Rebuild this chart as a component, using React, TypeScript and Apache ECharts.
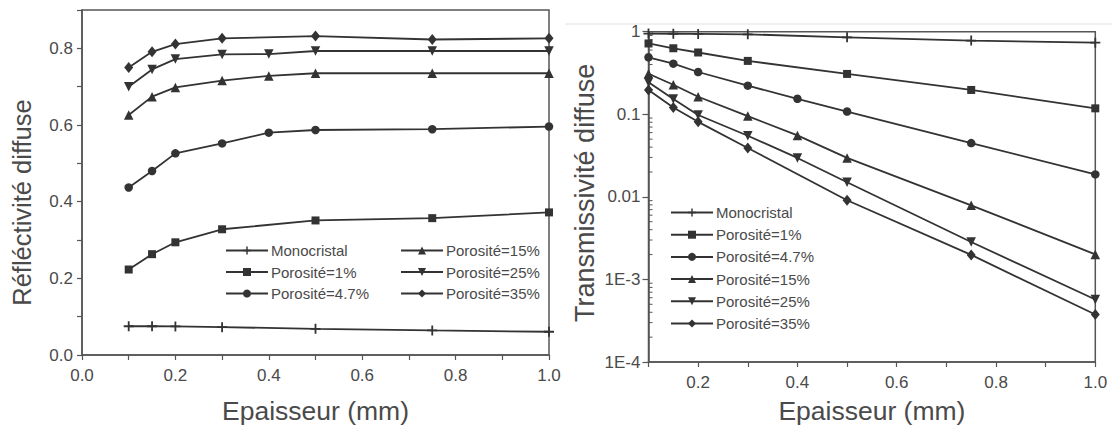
import React, { useEffect, useRef } from "react";
import * as echarts from "echarts";

// ---- names ----
const seriesNames = ["Monocristal", "Porosité=1%", "Porosité=4.7%", "Porosité=15%", "Porosité=25%", "Porosité=35%"];

// ---- Réflectivité diffuse (left) ----
const reflXMono = [0.1, 0.15, 0.2, 0.3, 0.5, 0.75, 1.0];
const reflMono = [0.075, 0.075, 0.0745, 0.0727, 0.0684, 0.064, 0.0606];
const reflXP1 = [0.1, 0.15, 0.2, 0.3, 0.5, 0.75, 1.0];
const reflP1 = [0.223, 0.263, 0.294, 0.328, 0.351, 0.357, 0.372];
const reflXP47 = [0.1, 0.15, 0.2, 0.3, 0.4, 0.5, 0.75, 1.0];
const reflP47 = [0.437, 0.48, 0.526, 0.552, 0.58, 0.587, 0.589, 0.596];
const reflXP15 = [0.1, 0.15, 0.2, 0.3, 0.4, 0.5, 0.75, 1.0];
const reflP15 = [0.626, 0.674, 0.698, 0.716, 0.728, 0.735, 0.735, 0.735];
const reflXP25 = [0.1, 0.15, 0.2, 0.3, 0.4, 0.5, 0.75, 1.0];
const reflP25 = [0.7, 0.745, 0.772, 0.784, 0.785, 0.793, 0.793, 0.793];
const reflXP35 = [0.1, 0.15, 0.2, 0.3, 0.5, 0.75, 1.0];
const reflP35 = [0.75, 0.791, 0.811, 0.826, 0.832, 0.823, 0.826];

// ---- Transmissivité diffuse (right, log) ----
const transXMono = [0.1, 0.15, 0.2, 0.3, 0.5, 0.75, 1.0];
const transMono = [0.95, 0.945, 0.94, 0.93, 0.855, 0.78, 0.736];
const transXP1 = [0.1, 0.15, 0.2, 0.3, 0.5, 0.75, 1.0];
const transP1 = [0.72, 0.63, 0.56, 0.443, 0.308, 0.197, 0.118];
const transXP47 = [0.1, 0.15, 0.2, 0.3, 0.4, 0.5, 0.75, 1.0];
const transP47 = [0.49, 0.41, 0.325, 0.222, 0.154, 0.108, 0.0448, 0.0187];
const transXP15 = [0.1, 0.15, 0.2, 0.3, 0.4, 0.5, 0.75, 1.0];
const transP15 = [0.31, 0.228, 0.163, 0.095, 0.0555, 0.0296, 0.0079, 0.00201];
const transXP25 = [0.1, 0.15, 0.2, 0.3, 0.4, 0.5, 0.75, 1.0];
const transP25 = [0.245, 0.153, 0.098, 0.055, 0.0296, 0.015, 0.00284, 0.000571];
const transXP35 = [0.1, 0.15, 0.2, 0.3, 0.5, 0.75, 1.0];
const transP35 = [0.197, 0.121, 0.081, 0.039, 0.0091, 0.00198, 0.000376];

// ---- tick labels ----
const logTickLabels: Record<string, string> = { "0": "1", "-1": "0.1", "-2": "0.01", "-3": "1E-3", "-4": "1E-4" };
const logMinorMultipliers = [2, 3, 4, 5, 6, 7, 8, 9];
const logDecades = [-4, -3, -2, -1];

const INK = "#333";
const AXIS = "#555";
const TEXT = "#4a4a4a";
const FONT = "Liberation Sans";

const PLUS = "path://M4.1,0L5.9,0L5.9,4.1L10,4.1L10,5.9L5.9,5.9L5.9,10L4.1,10L4.1,5.9L0,5.9L0,4.1L4.1,4.1Z";

const symbols = [
  { symbol: PLUS, symbolSize: 10, symbolRotate: 0 },
  { symbol: "rect", symbolSize: 8, symbolRotate: 0 },
  { symbol: "circle", symbolSize: 8.5, symbolRotate: 0 },
  { symbol: "triangle", symbolSize: 9.5, symbolRotate: 0 },
  { symbol: "triangle", symbolSize: 9.5, symbolRotate: 180 },
  { symbol: "diamond", symbolSize: [9, 11], symbolRotate: 0 },
];

const zip = (xs: number[], ys: number[]) => xs.map((x, i) => [x, ys[i]]);

function makeSeries(idx: number, data: number[][], axisIndex: number) {
  const s = symbols[idx];
  return {
    type: "line",
    name: seriesNames[idx],
    xAxisIndex: axisIndex,
    yAxisIndex: axisIndex,
    data,
    symbol: s.symbol,
    symbolSize: s.symbolSize,
    symbolRotate: s.symbolRotate,
    showSymbol: true,
    lineStyle: { color: INK, width: 1.8 },
    itemStyle: { color: INK, borderWidth: 0 },
    emphasis: { disabled: true },
    z: 3,
  };
}

const tenthsEven = (v: number) => (Math.round(v * 10) % 2 === 0 ? (Math.round(v * 10) / 10).toFixed(1) : "");

export default function App() {
  const ref = useRef<HTMLDivElement>(null);
  useEffect(() => {
    document.body.style.margin = "0";
    if (!ref.current) return;
    const chart = echarts.init(ref.current, undefined, { renderer: "svg" });

    const minorData: number[][] = [];
    logDecades.forEach((d) => logMinorMultipliers.forEach((m) => minorData.push([0.1, m * Math.pow(10, d)])));

    const axisLabelStyle = { fontSize: 17, color: TEXT, fontFamily: FONT };
    const legendCommon = {
      orient: "vertical",
      padding: 0,
      itemWidth: 42,
      itemHeight: 10,
      itemGap: 6.5,
      textStyle: { fontSize: 15, color: TEXT, fontFamily: FONT, padding: [0, 0, 0, -2] },
      inactiveColor: INK,
      selectedMode: false,
    };

    chart.setOption({
      animation: false,
      backgroundColor: "#fff",
      textStyle: { fontFamily: FONT },
      grid: [
        { left: 82, right: 563, top: 10, bottom: 73, show: true, borderColor: AXIS, borderWidth: 1.5, backgroundColor: "transparent" },
        { left: 648.5, right: 16.7, top: 31.7, bottom: 66.5, show: true, borderColor: AXIS, borderWidth: 1.5, backgroundColor: "transparent" },
      ],
      xAxis: [
        {
          type: "value", gridIndex: 0, min: 0, max: 1, interval: 0.1,
          axisLine: { show: true, lineStyle: { color: AXIS, width: 1.5 } },
          axisTick: { show: true, length: 5, lineStyle: { color: AXIS, width: 1.2 } },
          axisLabel: { ...axisLabelStyle, margin: 12, formatter: tenthsEven, showMinLabel: true, showMaxLabel: true },
          splitLine: { show: false },
          name: "Epaisseur (mm)", nameLocation: "middle", nameGap: 42,
          nameTextStyle: { fontSize: 26.5, color: TEXT, fontFamily: FONT },
        },
        {
          type: "value", gridIndex: 1, min: 0.1, max: 1, interval: 0.1,
          axisLine: { show: true, lineStyle: { color: AXIS, width: 1.5 } },
          axisTick: { show: true, length: 5, lineStyle: { color: AXIS, width: 1.2 } },
          axisLabel: { ...axisLabelStyle, margin: 12, formatter: tenthsEven, showMinLabel: true, showMaxLabel: true },
          splitLine: { show: false },
          name: "Epaisseur (mm)", nameLocation: "middle", nameGap: 35,
          nameTextStyle: { fontSize: 26.5, color: TEXT, fontFamily: FONT },
        },
      ],
      yAxis: [
        {
          type: "value", gridIndex: 0, min: 0, max: 0.9, interval: 0.1,
          axisLine: { show: true, lineStyle: { color: AXIS, width: 1.5 } },
          axisTick: { show: true, length: 5, lineStyle: { color: AXIS, width: 1.2 } },
          axisLabel: { ...axisLabelStyle, margin: 9, formatter: tenthsEven },
          splitLine: { show: false },
          name: "Réfléctivité diffuse", nameLocation: "middle", nameGap: 47,
          nameTextStyle: { fontSize: 25.5, color: TEXT, fontFamily: FONT, padding: [0, 40, 0, 0] },
        },
        {
          type: "log", gridIndex: 1, min: 0.0001, max: 1, logBase: 10,
          axisLine: { show: true, lineStyle: { color: AXIS, width: 1.5 } },
          axisTick: { show: true, length: 6, lineStyle: { color: AXIS, width: 1.2 } },
          axisLabel: {
            ...axisLabelStyle, margin: 8,
            formatter: (v: number) => logTickLabels[String(Math.round(Math.log10(v)))] ?? "",
          },
          splitLine: { show: false },
          name: "Transmissivité diffuse", nameLocation: "middle", nameGap: 50,
          nameTextStyle: { fontSize: 27, color: TEXT, fontFamily: FONT, padding: [0, 0, 0, 8] },
        },
      ],
      legend: [
        { ...legendCommon, left: 225, top: 243, data: seriesNames.slice(0, 3) },
        { ...legendCommon, left: 400, top: 243, data: seriesNames.slice(3, 6) },
        { ...legendCommon, left: 670, top: 205, itemGap: 7.2, data: seriesNames },
      ],
      graphic: [
        { type: "line", shape: { x1: 565, y1: 24, x2: 1112, y2: 24 }, style: { stroke: "#e2e2e2", lineWidth: 1 }, silent: true },
      ],
      series: [
        makeSeries(0, zip(reflXMono, reflMono), 0),
        makeSeries(1, zip(reflXP1, reflP1), 0),
        makeSeries(2, zip(reflXP47, reflP47), 0),
        makeSeries(3, zip(reflXP15, reflP15), 0),
        makeSeries(4, zip(reflXP25, reflP25), 0),
        makeSeries(5, zip(reflXP35, reflP35), 0),
        makeSeries(0, zip(transXMono, transMono), 1),
        makeSeries(1, zip(transXP1, transP1), 1),
        makeSeries(2, zip(transXP47, transP47), 1),
        makeSeries(3, zip(transXP15, transP15), 1),
        makeSeries(4, zip(transXP25, transP25), 1),
        makeSeries(5, zip(transXP35, transP35), 1),
        {
          type: "custom",
          name: "minorTicks",
          xAxisIndex: 1,
          yAxisIndex: 1,
          data: minorData,
          encode: { x: 0, y: 1 },
          silent: true,
          clip: false,
          renderItem: (params: any, api: any) => {
            const p = api.coord([api.value(0), api.value(1)]);
            return {
              type: "line",
              shape: { x1: p[0], y1: p[1], x2: p[0] + 4, y2: p[1] },
              style: { stroke: AXIS, lineWidth: 1 },
            };
          },
        },
      ],
    });
    return () => chart.dispose();
  }, []);
  return <div ref={ref} style={{ width: 1112, height: 429 }} />;
}
